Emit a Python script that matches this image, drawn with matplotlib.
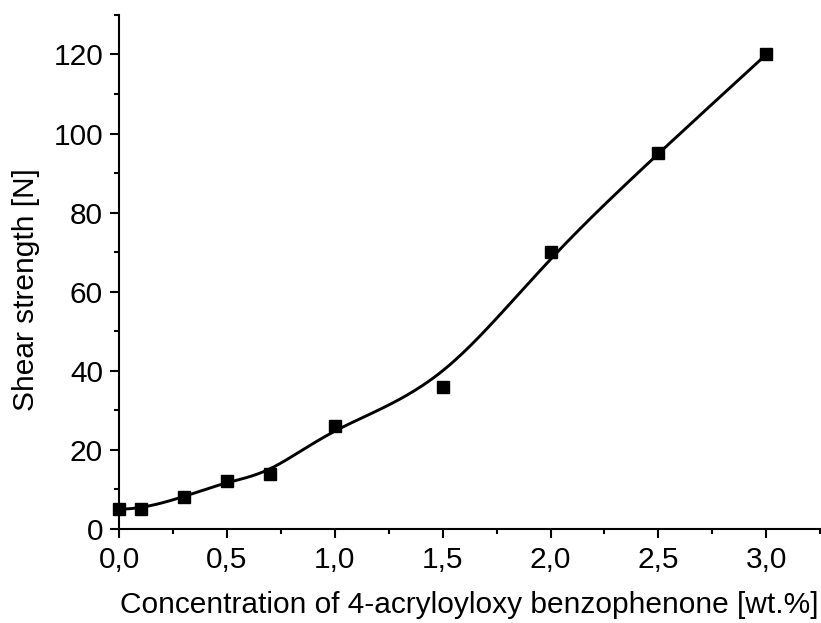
import matplotlib
matplotlib.use('Agg')
import matplotlib.pyplot as plt
import numpy as np
from matplotlib.ticker import MultipleLocator, FuncFormatter

# measured shear strength vs photoinitiator concentration
concentration = [0.0, 0.1, 0.3, 0.5, 0.7, 1.0, 1.5, 2.0, 2.5, 3.0]
shear_strength = [5, 5, 8, 12, 14, 26, 36, 70, 95, 120]


# clamped cubic B-spline using the data points as control points
def bspline(xs, ys, k=3, n=400):
    pts = np.column_stack([xs, ys]).astype(float)
    m = len(pts)
    knots = np.concatenate([np.zeros(k), np.linspace(0, 1, m - k + 1), np.ones(k)])
    t = np.linspace(0, 1, n)
    t[-1] = 1 - 1e-12

    def basis(i, p, t):
        if p == 0:
            return ((knots[i] <= t) & (t < knots[i + 1])).astype(float)
        out = np.zeros_like(t)
        d1 = knots[i + p] - knots[i]
        d2 = knots[i + p + 1] - knots[i + 1]
        if d1 > 0:
            out += (t - knots[i]) / d1 * basis(i, p - 1, t)
        if d2 > 0:
            out += (knots[i + p + 1] - t) / d2 * basis(i + 1, p - 1, t)
        return out

    curve = sum(basis(i, k, t)[:, None] * pts[i] for i in range(m))
    return curve[:, 0], curve[:, 1]


plt.rcParams['font.family'] = ['Liberation Sans', 'DejaVu Sans']

fig = plt.figure(figsize=(8.21, 6.23), dpi=100)
ax = fig.add_axes([0.145, 0.151, 0.854, 0.825])

cx, cy = bspline(concentration, shear_strength)
ax.plot(cx, cy, color='black', lw=2.1, zorder=2)
ax.plot(concentration, shear_strength, 's', color='black', ms=8.5, zorder=3, clip_on=False)

ax.set_xlim(0, 3.25)
ax.set_ylim(0, 130)
ax.xaxis.set_major_locator(MultipleLocator(0.5))
ax.xaxis.set_minor_locator(MultipleLocator(0.25))
ax.yaxis.set_major_locator(MultipleLocator(20))
ax.yaxis.set_minor_locator(MultipleLocator(10))
ax.xaxis.set_major_formatter(FuncFormatter(lambda v, p: f'{v:.1f}'.replace('.', ',')))
ax.yaxis.set_major_formatter(FuncFormatter(lambda v, p: f'{v:.0f}'))

for side in ['top', 'right']:
    ax.spines[side].set_visible(False)
for side in ['left', 'bottom']:
    ax.spines[side].set_linewidth(1.5)

ax.tick_params(which='major', direction='out', length=6.5, width=1.5, labelsize=21.5)
ax.tick_params(axis='x', which='major', pad=6)
ax.tick_params(axis='y', which='major', pad=5)
ax.tick_params(which='minor', direction='out', length=3.5, width=1.5)

ax.set_xlabel('Concentration of 4-acryloyloxy benzophenone [wt.%]', fontsize=21.5, labelpad=12)
ax.set_ylabel('Shear strength [N]', fontsize=21.5)
ax.yaxis.set_label_coords(-0.113, 0.465)

fig.savefig('out.png', dpi=100)
